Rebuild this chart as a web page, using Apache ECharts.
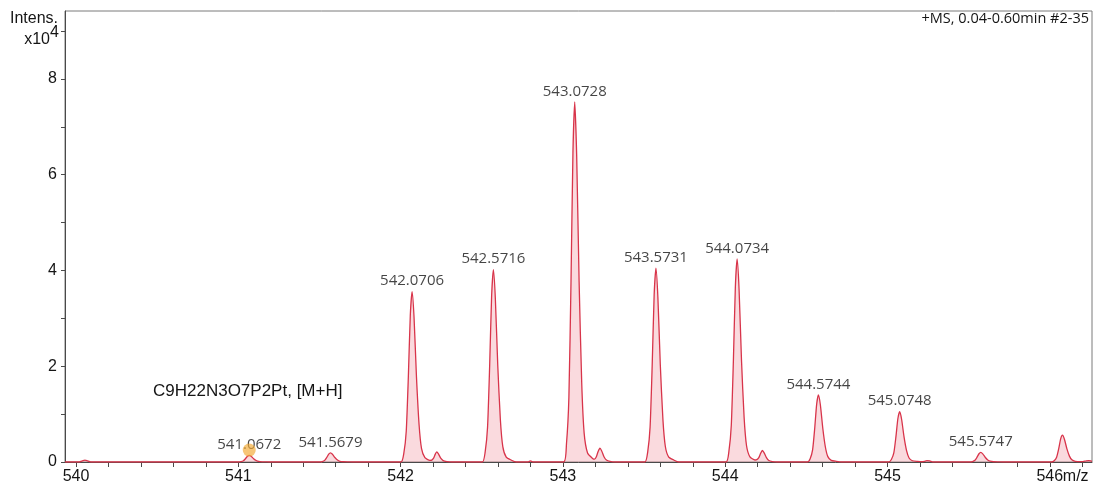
<!DOCTYPE html>
<html>
<head>
<meta charset="utf-8">
<title>Mass spectrum C9H22N3O7P2Pt [M+H]</title>
<script src="https://cdn.jsdelivr.net/npm/echarts@6/dist/echarts.min.js"></script>
<style>
  html, body { margin: 0; padding: 0; background: #ffffff; }
  #chart { width: 1097px; height: 488px; }
</style>
</head>
<body>
<div id="chart"></div>
<script>
// Profile points of each isotope peak: [m/z, intensity (x10^4)]
const peak540_06 = [[540.020, 0], [540.040, 0.025], [540.055, 0.04], [540.070, 0.025], [540.090, 0]];
const peak541_07 = [[540.9992, 0], [541.0162, 0.007], [541.0312, 0.025], [541.0442, 0.07], [541.0562, 0.12], [541.0672, 0.14], [541.0792, 0.119], [541.0942, 0.07], [541.1102, 0.031], [541.1252, 0.011], [541.1462, 0.004], [541.1772, 0.001], [541.2072, 0]];
const peak541_57 = [[541.4999, 0], [541.5169, 0.01], [541.5319, 0.034], [541.5449, 0.095], [541.5569, 0.163], [541.5679, 0.19], [541.5799, 0.162], [541.5949, 0.095], [541.6109, 0.042], [541.6259, 0.015], [541.6469, 0.005], [541.6779, 0.002], [541.7079, 0]];
const peak542_07 = [[542.0026, 0], [542.0196, 0.178], [542.0346, 0.641], [542.0476, 1.78], [542.0596, 3.062], [542.0706, 3.56], [542.0826, 3.026], [542.0976, 1.78], [542.1136, 0.783], [542.1286, 0.285], [542.1496, 0.089], [542.1806, 0.036]];
const peak542_22 = [[542.192, 0.04], [542.203, 0.08], [542.213, 0.16], [542.222, 0.21], [542.233, 0.17], [542.247, 0.08], [542.262, 0.03], [542.285, 0.01], [542.315, 0]];
const peak542_57 = [[542.5036, 0], [542.5206, 0.201], [542.5356, 0.724], [542.5486, 2.01], [542.5606, 3.457], [542.5716, 4.02], [542.5836, 3.417], [542.5986, 2.01], [542.6146, 0.884], [542.6296, 0.322], [542.6506, 0.1], [542.6816, 0.04], [542.7116, 0]];
const peak542_80 = [[542.785, 0], [542.800, 0.025], [542.815, 0]];
const peak543_07 = [[543.0048, 0], [543.0218, 0.376], [543.0368, 1.354], [543.0498, 3.76], [543.0618, 6.467], [543.0728, 7.52], [543.0848, 6.392], [543.0998, 3.76], [543.1158, 1.654], [543.1308, 0.602], [543.1518, 0.188], [543.1828, 0.075]];
const peak543_23 = [[543.195, 0.06], [543.206, 0.11], [543.217, 0.22], [543.228, 0.29], [543.239, 0.23], [543.253, 0.11], [543.268, 0.04], [543.290, 0.012], [543.320, 0]];
const peak543_57 = [[543.5051, 0], [543.5221, 0.203], [543.5371, 0.729], [543.5501, 2.025], [543.5621, 3.483], [543.5731, 4.05], [543.5851, 3.443], [543.6001, 2.025], [543.6161, 0.891], [543.6311, 0.324], [543.6521, 0.101], [543.6831, 0.041], [543.7131, 0]];
const peak544_07 = [[544.0054, 0], [544.0224, 0.212], [544.0374, 0.763], [544.0504, 2.12], [544.0624, 3.646], [544.0734, 4.24], [544.0854, 3.604], [544.1004, 2.12], [544.1164, 0.933], [544.1314, 0.339], [544.1524, 0.106], [544.1834, 0.042]];
const peak544_23 = [[544.195, 0.05], [544.207, 0.09], [544.218, 0.18], [544.229, 0.24], [544.240, 0.19], [544.254, 0.09], [544.269, 0.03], [544.290, 0.01], [544.320, 0]];
const peak544_57 = [[544.5064, 0], [544.5234, 0.07], [544.5384, 0.252], [544.5514, 0.7], [544.5634, 1.204], [544.5744, 1.40], [544.5864, 1.19], [544.6014, 0.7], [544.6174, 0.308], [544.6324, 0.112], [544.6534, 0.035], [544.6844, 0.014], [544.7144, 0]];
const peak545_07 = [[545.0068, 0], [545.0238, 0.053], [545.0388, 0.189], [545.0518, 0.525], [545.0638, 0.903], [545.0748, 1.05], [545.0868, 0.893], [545.1018, 0.525], [545.1178, 0.231], [545.1328, 0.084], [545.1538, 0.026], [545.1848, 0.011], [545.2148, 0.005]];
const peak545_24 = [[545.228, 0.015], [545.242, 0.03], [545.260, 0.025], [545.280, 0]];
const peak545_57 = [[545.5067, 0], [545.5237, 0.01], [545.5387, 0.036], [545.5517, 0.1], [545.5637, 0.172], [545.5747, 0.2], [545.5867, 0.17], [545.6017, 0.1], [545.6177, 0.044], [545.6327, 0.016], [545.6537, 0.005], [545.6847, 0.002], [545.7147, 0]];
const peak546_08 = [[546.010, 0], [546.027, 0.028], [546.042, 0.101], [546.055, 0.28], [546.067, 0.482], [546.078, 0.56], [546.090, 0.476], [546.105, 0.28], [546.121, 0.123], [546.136, 0.045], [546.157, 0.014], [546.188, 0.006]];
const peak546_24 = [[546.205, 0.008], [546.225, 0.025], [546.240, 0.03], [546.255, 0.02], [546.260, 0.015]];

// Annotated peak apexes: [m/z, intensity (x10^4)]
const labelledPeaks = [
  [541.0672, 0.14], [541.5679, 0.19], [542.0706, 3.56], [542.5716, 4.02],
  [543.0728, 7.52], [543.5731, 4.05], [544.0734, 4.24], [544.5744, 1.40],
  [545.0748, 1.05], [545.5747, 0.20]
];

// Marker for the calculated [M+H] position
const formulaMarker = [[541.0672, 0.25]];

// Axis ranges and tick values
const mzRange = [539.932, 546.26];
const intensityRange = [0, 9.42];
const mzLabelValues = [540, 541, 542, 543, 544, 545, 546];
const mzTickValues = [540, 540.2, 540.4, 540.6, 540.8, 541, 541.2, 541.4, 541.6, 541.8,
  542, 542.2, 542.4, 542.6, 542.8, 543, 543.2, 543.4, 543.6, 543.8,
  544, 544.2, 544.4, 544.6, 544.8, 545, 545.2, 545.4, 545.6, 545.8, 546, 546.2];
const intensityLabelValues = [0, 2, 4, 6, 8];
const intensityTickValues = [0, 1, 2, 3, 4, 5, 6, 7, 8, 9];

const spectrumTitle = '+MS, 0.04-0.60min #2-35';
const formulaText = 'C9H22N3O7P2Pt, [M+H]';

// Full profile, baseline to baseline
const profile = [[mzRange[0], 0]].concat(
  peak540_06, peak541_07, peak541_57, peak542_07, peak542_22, peak542_57, peak542_80,
  peak543_07, peak543_23, peak543_57, peak544_07, peak544_23, peak544_57, peak545_07,
  peak545_24, peak545_57, peak546_08, peak546_24
);

const axisFont = 'Liberation Sans, Arial, sans-serif';
const peakFont = 'Open Sans, Noto Sans, sans-serif';
const frameColor = '#7a7a7a';
const textColor = '#151515';

const chart = echarts.init(document.getElementById('chart'), null, { renderer: 'canvas' });

chart.setOption({
  animation: false,
  backgroundColor: '#ffffff',
  grid: {
    left: 65, right: 5, top: 11, bottom: 26,
    show: true, borderColor: frameColor, borderWidth: 1, backgroundColor: 'transparent'
  },
  xAxis: {
    type: 'value',
    min: mzRange[0], max: mzRange[1],
    axisLine: { show: true, onZero: false, lineStyle: { color: '#4a4a4a', width: 1 } },
    axisTick: { show: true, customValues: mzTickValues, length: 5, lineStyle: { color: '#4a4a4a' } },
    axisLabel: {
      customValues: mzLabelValues, fontFamily: axisFont, fontSize: 16, color: textColor, margin: 7,
      formatter: v => String(Math.round(v))
    },
    splitLine: { show: false }
  },
  yAxis: {
    type: 'value',
    min: intensityRange[0], max: intensityRange[1],
    axisLine: { show: true, lineStyle: { color: '#4a4a4a', width: 1 } },
    axisTick: { show: true, customValues: intensityTickValues, length: 4, lineStyle: { color: '#4a4a4a' } },
    axisLabel: {
      customValues: intensityLabelValues, fontFamily: axisFont, fontSize: 16, color: textColor, margin: 8
    },
    splitLine: { show: false }
  },
  series: [
    {
      type: 'line',
      data: profile,
      showSymbol: false,
      smooth: 0.2,
      lineStyle: { color: '#d8344a', width: 1.3 },
      areaStyle: { color: 'rgba(240, 140, 150, 0.45)', origin: 'start' },
      z: 2
    },
    {
      type: 'scatter',
      data: labelledPeaks,
      symbolSize: 0,
      silent: true,
      label: {
        show: true, position: 'top', distance: 3,
        fontFamily: peakFont, fontSize: 15, color: textColor,
        formatter: p => p.value[0].toFixed(4)
      },
      z: 3
    },
    {
      type: 'scatter',
      data: formulaMarker,
      symbol: 'circle',
      symbolSize: 13,
      itemStyle: { color: 'rgba(243, 172, 55, 0.85)' },
      silent: true,
      z: 4
    }
  ]
});

// Axis captions and annotation texts
const x546 = chart.convertToPixel({ xAxisIndex: 0 }, 546);
chart.setOption({
  graphic: [
    { type: 'text', left: 10, top: 11, style: { text: 'Intens.', font: '16px ' + axisFont, fill: textColor } },
    { type: 'text', x: 50, y: 40, style: { text: 'x10', font: '16px ' + axisFont, fill: textColor, textAlign: 'right', textVerticalAlign: 'middle' } },
    { type: 'text', x: 50, y: 33, style: { text: '4', font: '16px ' + axisFont, fill: textColor, textAlign: 'left', textVerticalAlign: 'middle' } },
    { type: 'text', x: 1089, y: 19, style: { text: spectrumTitle, font: '14.5px ' + peakFont, fill: textColor, textAlign: 'right', textVerticalAlign: 'middle' } },
    { type: 'text', x: 153, y: 391, style: { text: formulaText, font: '17px ' + axisFont, fill: textColor, textAlign: 'left', textVerticalAlign: 'middle' } },
    { type: 'text', x: x546 + 13, y: 477, style: { text: 'm/z', font: '16px ' + axisFont, fill: textColor, textAlign: 'left', textVerticalAlign: 'middle' } }
  ]
});
</script>
</body>
</html>
